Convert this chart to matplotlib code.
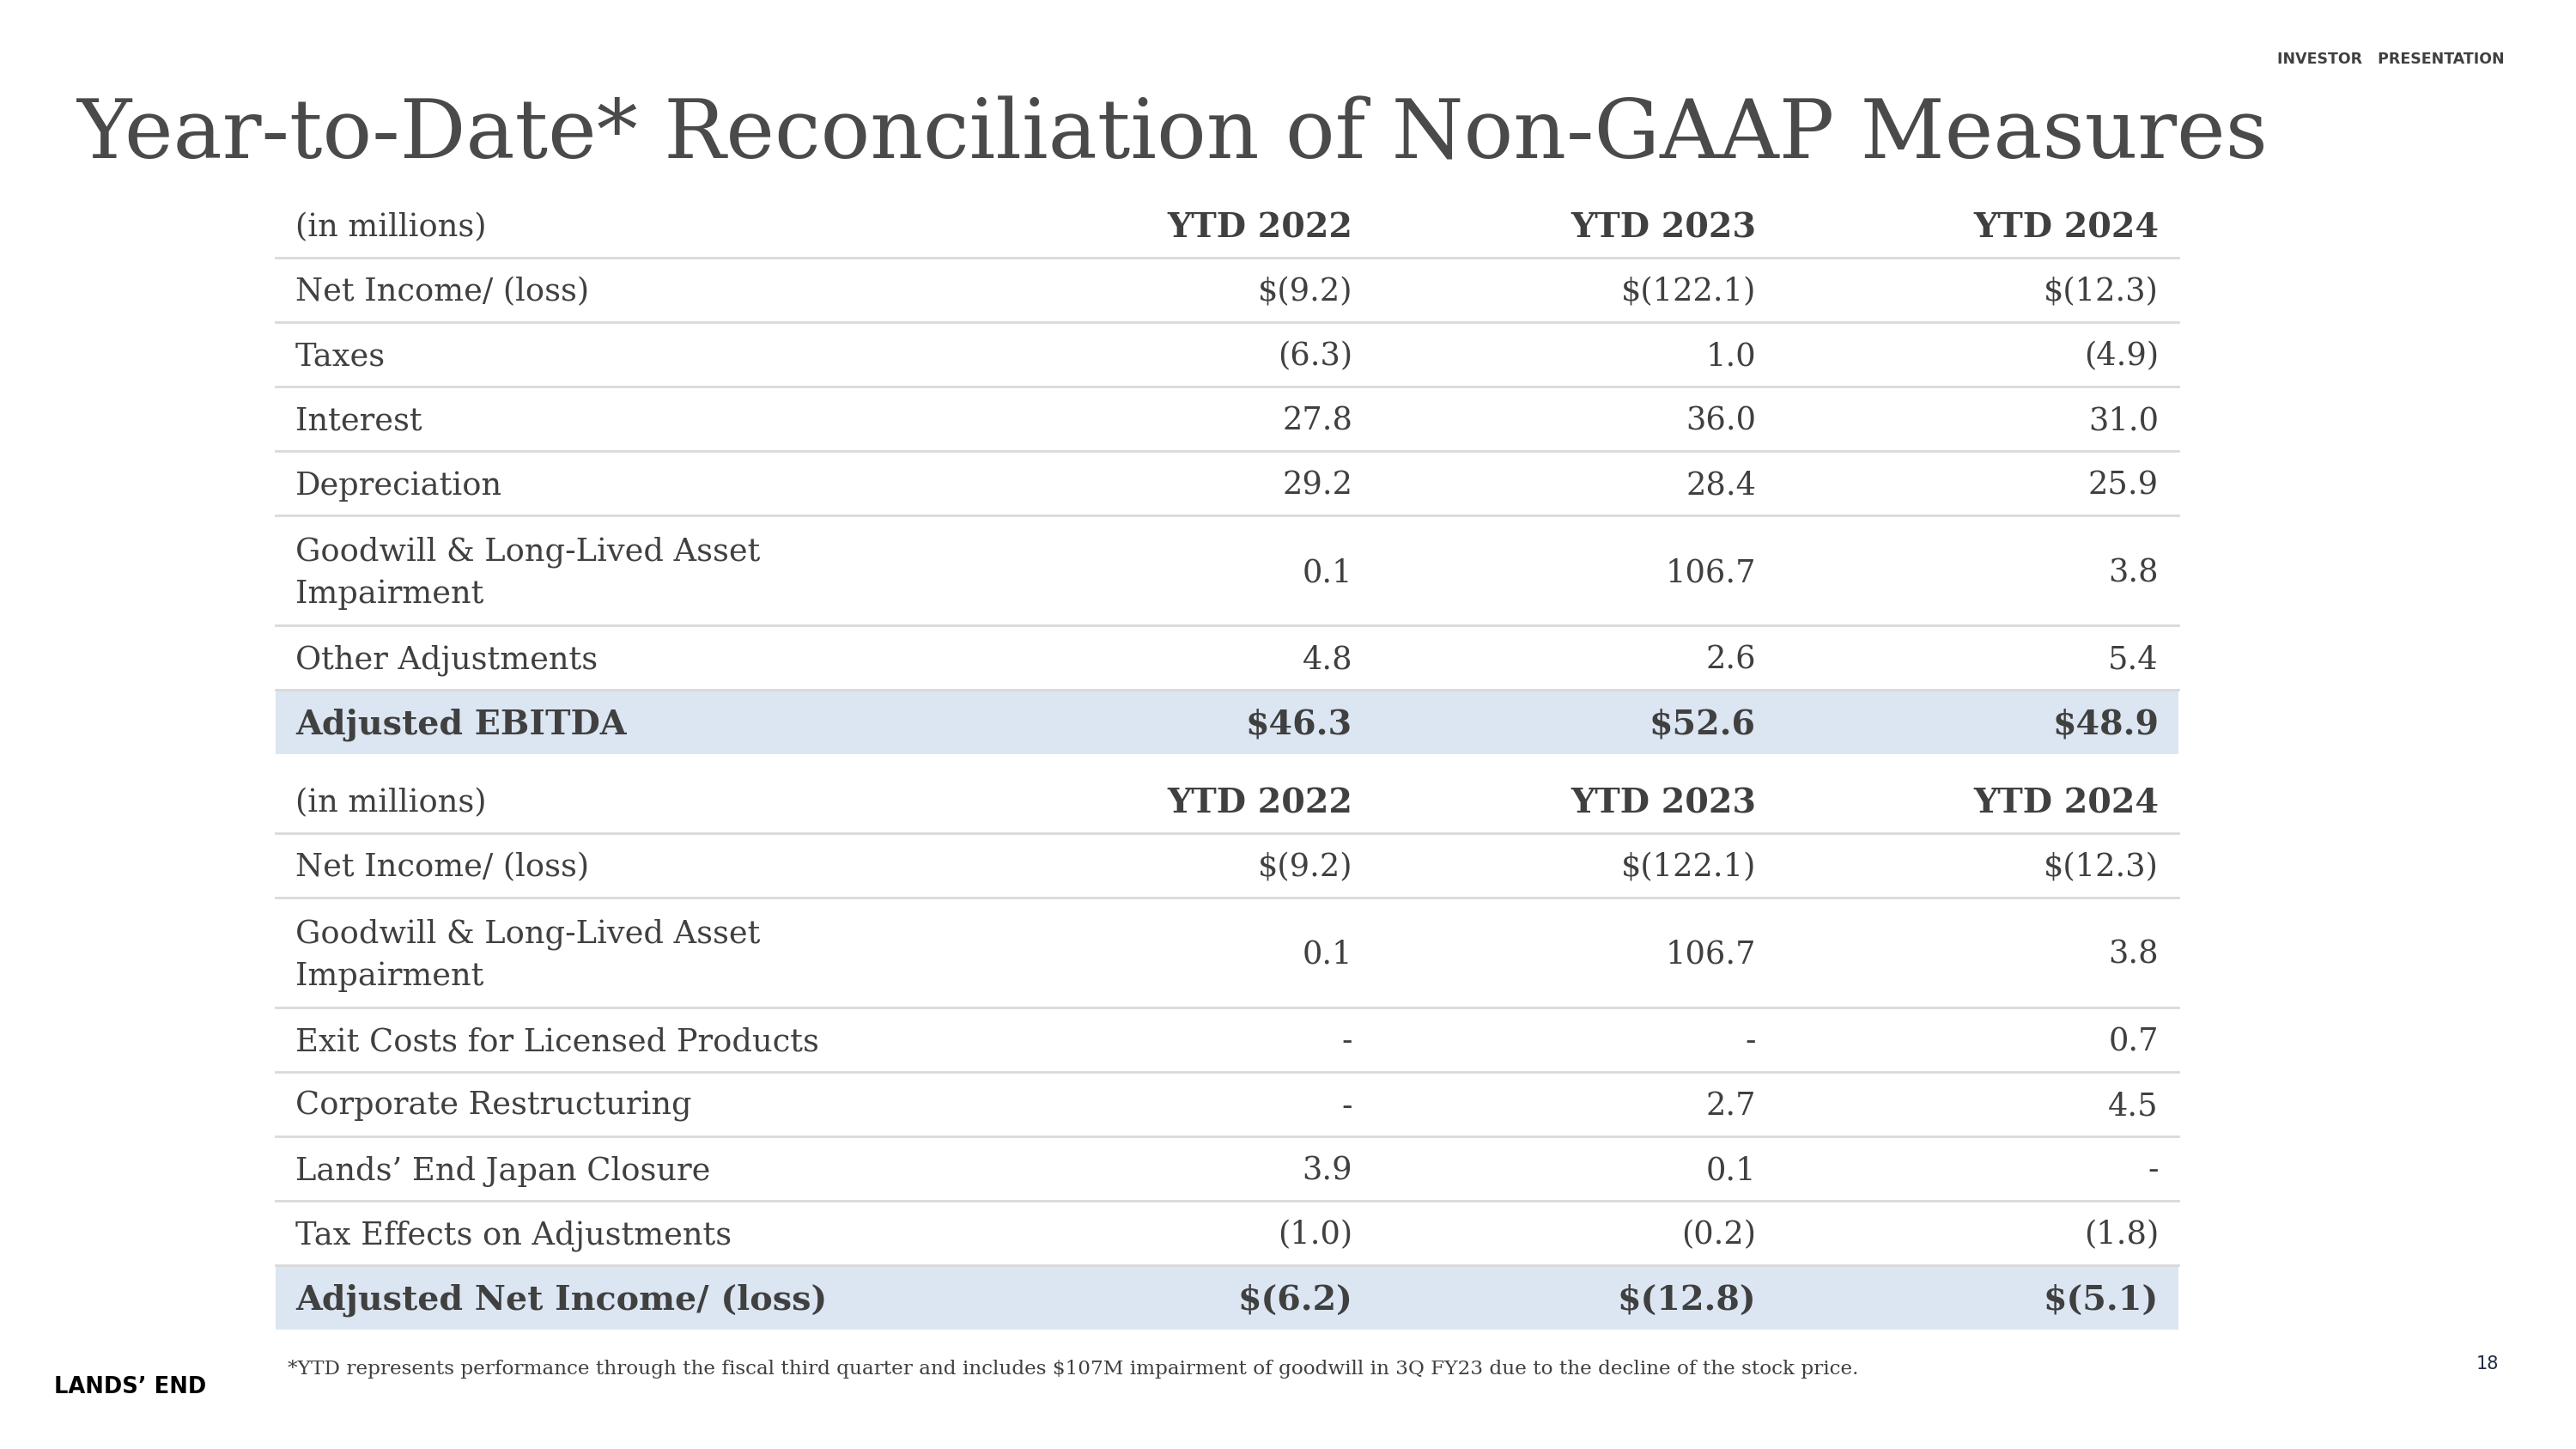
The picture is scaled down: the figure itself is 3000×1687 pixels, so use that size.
import matplotlib
matplotlib.use("Agg")
import matplotlib.pyplot as plt
from matplotlib.patches import Rectangle

# table data
col_headers = ["YTD 2022", "YTD 2023", "YTD 2024"]

ebitda_labels = ["Net Income/ (loss)", "Taxes", "Interest", "Depreciation",
                 "Goodwill & Long-Lived Asset\nImpairment", "Other Adjustments",
                 "Adjusted EBITDA"]
ebitda_2022 = ["$(9.2)", "(6.3)", "27.8", "29.2", "0.1", "4.8", "$46.3"]
ebitda_2023 = ["$(122.1)", "1.0", "36.0", "28.4", "106.7", "2.6", "$52.6"]
ebitda_2024 = ["$(12.3)", "(4.9)", "31.0", "25.9", "3.8", "5.4", "$48.9"]

ni_labels = ["Net Income/ (loss)", "Goodwill & Long-Lived Asset\nImpairment",
             "Exit Costs for Licensed Products", "Corporate Restructuring",
             "Lands\u2019 End Japan Closure", "Tax Effects on Adjustments",
             "Adjusted Net Income/ (loss)"]
ni_2022 = ["$(9.2)", "0.1", "-", "-", "3.9", "(1.0)", "$(6.2)"]
ni_2023 = ["$(122.1)", "106.7", "-", "2.7", "0.1", "(0.2)", "$(12.8)"]
ni_2024 = ["$(12.3)", "3.8", "0.7", "4.5", "-", "(1.8)", "$(5.1)"]

title = "Year-to-Date* Reconciliation of Non-GAAP Measures"
footnote = ("*YTD represents performance through the fiscal third quarter and includes "
            "$107M impairment of goodwill in 3Q FY23 due to the decline of the stock price.")

W, H = 3000, 1687
SERIF = "DejaVu Serif"
TXT = "#404040"
LINE = "#d9d9d9"
SHADE = "#dce6f2"

fig = plt.figure(figsize=(W / 100, H / 100), dpi=100)
ax = fig.add_axes([0, 0, 1, 1])
ax.set_xlim(0, W)
ax.set_ylim(H, 0)
ax.axis("off")

x_left, x_right = 321, 2537
x_label = 344
x_cols = [1575, 2045, 2514]
row_h = 75
row_h2 = 128
fs = 26.5
fs_bold = 28.5
dy = 3  # nudge text a little below the row centre


def draw_table(top, labels, cols):
    # header row
    yc = top + row_h / 2 + dy
    ax.text(x_label, yc, "(in millions)", fontsize=fs, family=SERIF, color=TXT,
            va="center")
    for xc, h in zip(x_cols, col_headers):
        ax.text(xc, yc, h, fontsize=fs_bold, family=SERIF, color=TXT, va="center",
                ha="right", fontweight="bold")
    y = top + row_h
    ax.plot([x_left, x_right], [y, y], color=LINE, lw=2)
    n = len(labels)
    for i, lab in enumerate(labels):
        h = row_h2 if "\n" in lab else row_h
        last = i == n - 1
        if last:
            ax.add_patch(Rectangle((x_left, y), x_right - x_left, h,
                                   facecolor=SHADE, edgecolor="none", zorder=0))
        yc = y + h / 2 + dy
        wt = "bold" if last else "normal"
        size = fs_bold if last else fs
        ax.text(x_label, yc, lab, fontsize=size, family=SERIF, color=TXT,
                va="center", fontweight=wt, linespacing=1.45)
        for xc, vals in zip(x_cols, cols):
            ax.text(xc, yc, vals[i], fontsize=size, family=SERIF, color=TXT,
                    va="center", ha="right", fontweight=wt)
        y += h
        if not last:
            ax.plot([x_left, x_right], [y, y], color=LINE, lw=2)
    return y


draw_table(225, ebitda_labels, [ebitda_2022, ebitda_2023, ebitda_2024])
draw_table(895, ni_labels, [ni_2022, ni_2023, ni_2024])

ax.text(90, 158, title, fontsize=69, family=SERIF, color="#4a4a4a", va="center")
ax.text(2652, 69, "INVESTOR   PRESENTATION", fontsize=12.5, family="DejaVu Sans",
        color="#404040", fontweight="bold", va="center")
ax.text(335, 1594, footnote, fontsize=16.7, family=SERIF, color=TXT, va="center")
ax.text(63, 1615, "LANDS\u2019 END", fontsize=18.5, family="DejaVu Sans",
        color="black", fontweight="heavy", va="center")
ax.text(2884, 1588, "18", fontsize=15, family="DejaVu Sans", color="#1f2a44",
        va="center")

fig.savefig("out.png", dpi=100, facecolor="white")
